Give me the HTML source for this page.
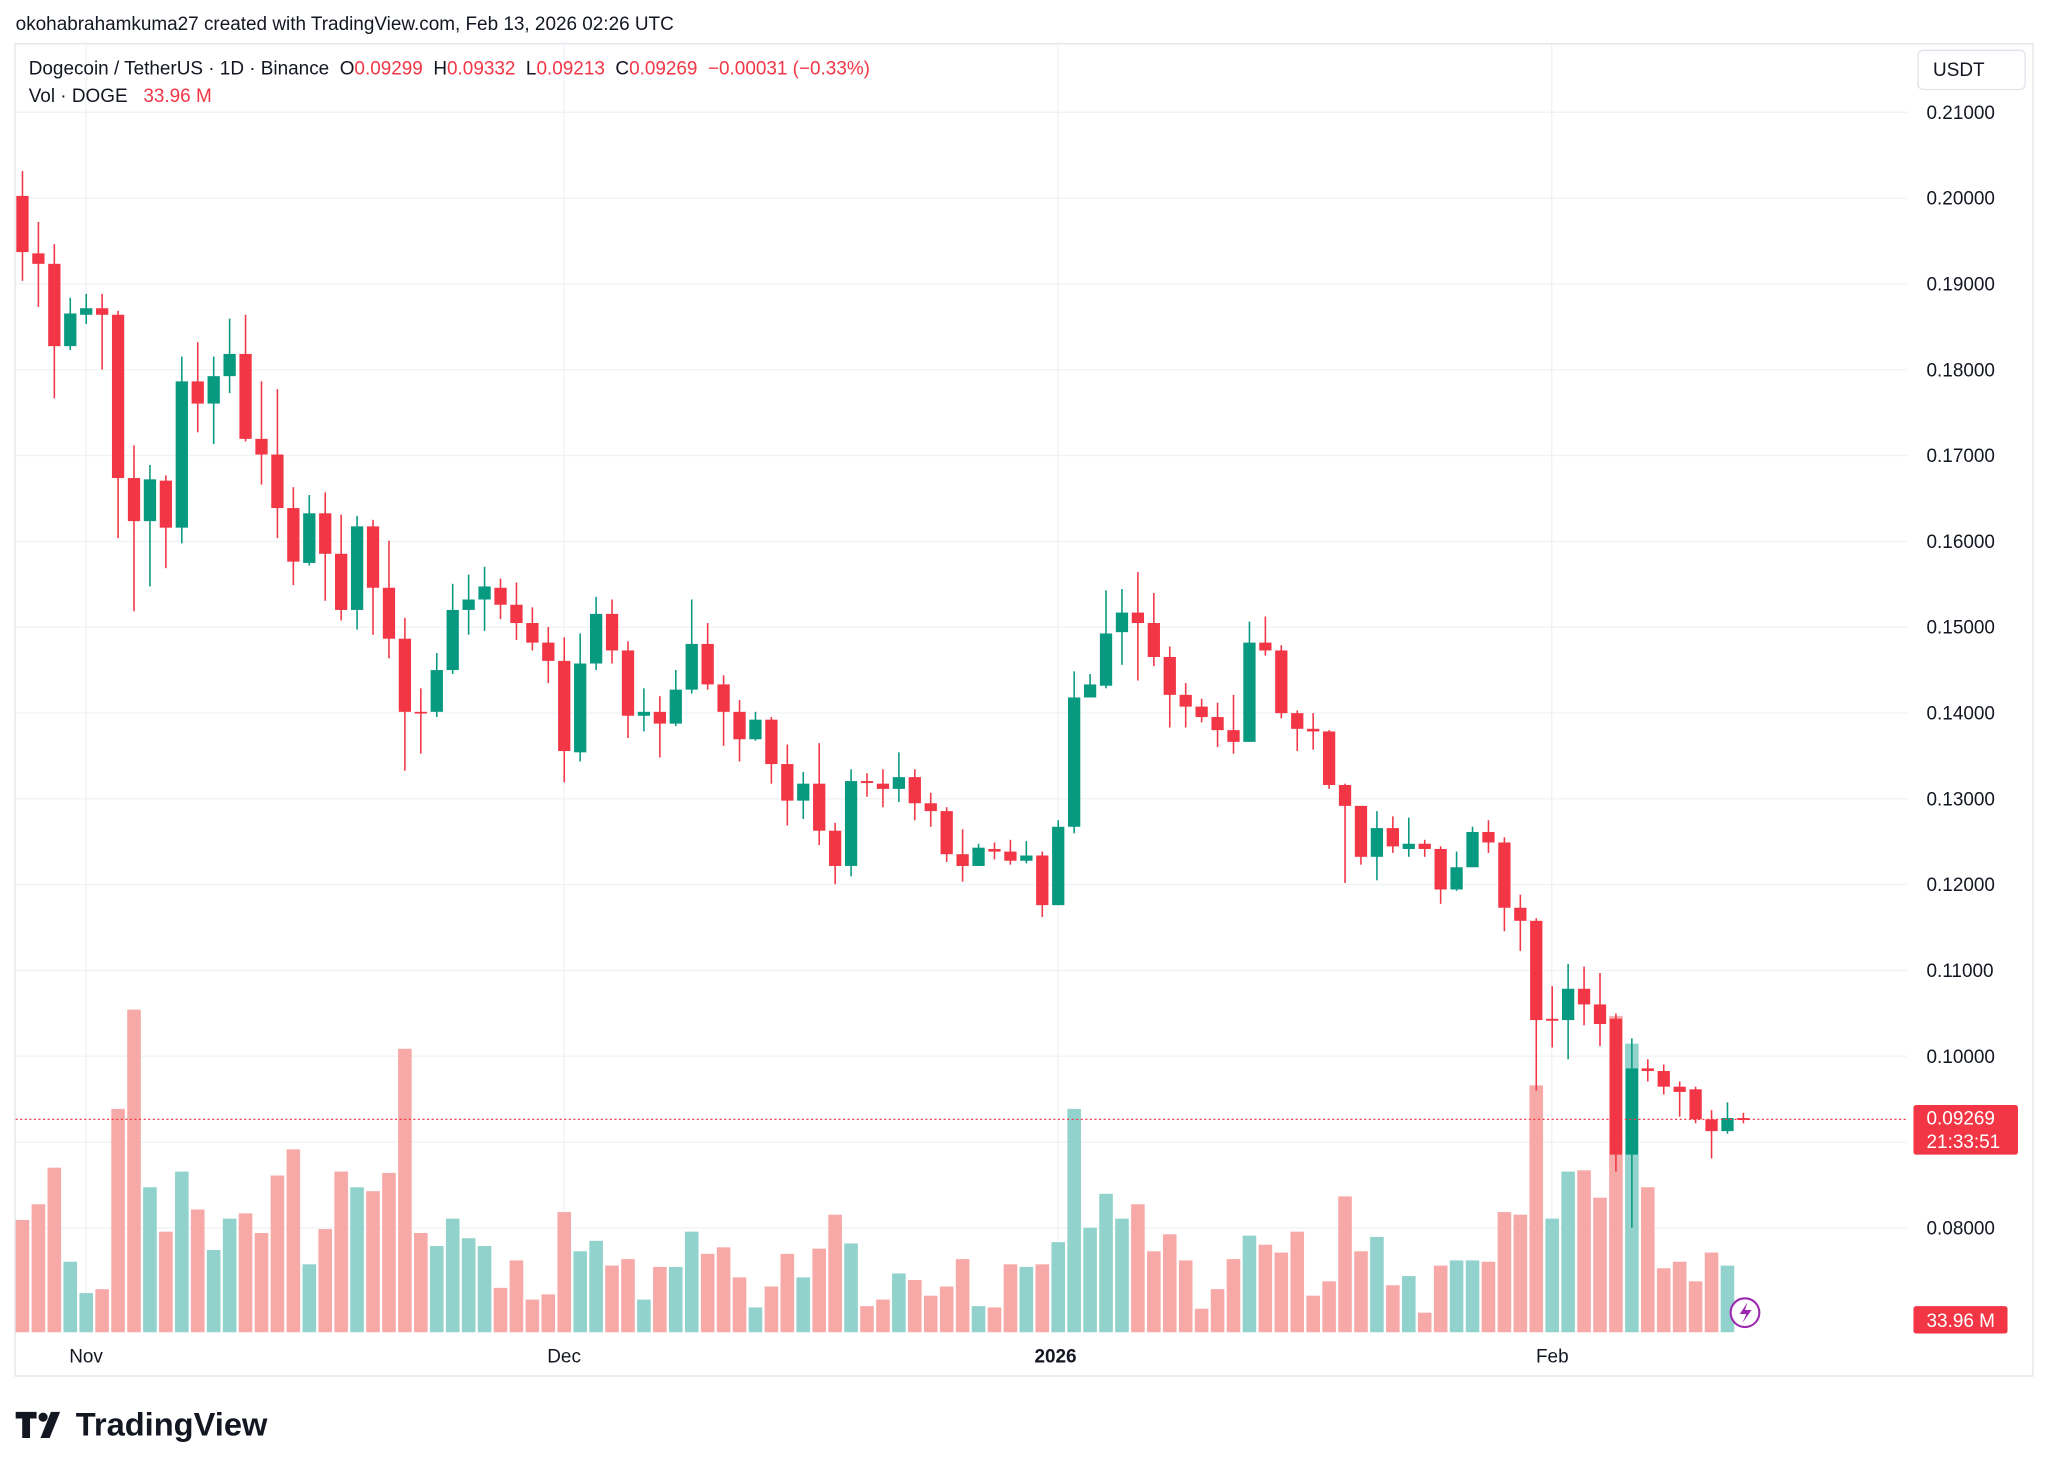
<!DOCTYPE html>
<html><head><meta charset="utf-8"><style>
html,body{margin:0;padding:0;background:#fff;}
svg{display:block;}
text{font-family:"Liberation Sans",sans-serif;white-space:pre;}
</style></head><body>
<svg id="s" width="2048" height="1472" viewBox="0 0 1568 1127" xmlns="http://www.w3.org/2000/svg">
<rect width="1568" height="1127" fill="#fff"/>
<text x="12" y="23" font-size="14.5" fill="#131722">okohabrahamkuma27 created with TradingView.com, Feb 13, 2026 02:26 UTC</text>
<rect x="11.5" y="33.5" width="1545" height="1020" fill="none" stroke="#e0e3eb" stroke-width="1"/>
<g id="grid" stroke="#f0f2f5" stroke-width="1"></g>
<g id="vol"></g>
<g id="cnd"></g>
<line x1="12" y1="857" x2="1460" y2="857" stroke="#F23645" stroke-width="1" stroke-dasharray="1.5,2"/>
<text x="22" y="57" font-size="14.5" fill="#131722">Dogecoin / TetherUS · 1D · Binance&#160;&#160;O<tspan fill="#F23645">0.09299</tspan>&#160;&#160;H<tspan fill="#F23645">0.09332</tspan>&#160;&#160;L<tspan fill="#F23645">0.09213</tspan>&#160;&#160;C<tspan fill="#F23645">0.09269&#160;&#160;−0.00031 (−0.33%)</tspan></text>
<text x="22" y="78" font-size="14.5" fill="#131722">Vol · DOGE&#160;&#160;&#160;<tspan fill="#F23645">33.96 M</tspan></text>
<rect x="1468.5" y="38.5" width="82" height="30" rx="4" fill="#fff" stroke="#e0e3eb"/>
<text x="1480" y="58" font-size="14.5" fill="#131722">USDT</text>
<g id="plab" font-size="14.5" fill="#131722"></g>
<rect x="1465" y="846" width="80" height="38" rx="2" fill="#F23645"/>
<text x="1475" y="861" font-size="14.5" fill="#fff">0.09269</text>
<text x="1475" y="879" font-size="14.5" fill="#fff">21:33:51</text>
<rect x="1465" y="1000" width="72" height="21" rx="2" fill="#F23645"/>
<text x="1475" y="1016" font-size="14.5" fill="#fff">33.96 M</text>
<text x="53" y="1043" font-size="14.5" fill="#131722">Nov</text>
<text x="419" y="1043" font-size="14.5" fill="#131722">Dec</text>
<text x="792" y="1043" font-size="14.5" font-weight="bold" fill="#131722">2026</text>
<text x="1176" y="1043" font-size="14.5" fill="#131722">Feb</text>
<circle cx="1336" cy="1005" r="11" fill="#fff" stroke="#9c27b0" stroke-width="1.6"/>
<path d="M1338 997 L1332 1006 L1337 1006 L1334 1013 L1341 1003 L1336 1003 Z" fill="#9c27b0"/>
<g fill="#131722">
<path d="M12 1081 h16 v5 h-5 v15 h-6 v-15 h-5 z"/>
<circle cx="33" cy="1085" r="3.5"/>
<path d="M39 1081 h7 l-8 20 h-7 z"/>
</g>
<text x="58" y="1099" font-size="25" font-weight="bold" fill="#131722">TradingView</text>
</svg>
<script>
const NS="http://www.w3.org/2000/svg";
function el(p,t,a){const e=document.createElementNS(NS,t);for(const k in a)e.setAttribute(k,a[k]);p.appendChild(e);return e;}
const grid=document.getElementById('grid'),plab=document.getElementById('plab');
for(let i=0;i<=13;i++){const p=0.21-i*0.01;const y=86+i*65.7;
 if(y<1010){el(grid,'line',{x1:12,x2:1460,y1:y,y2:y});
 const t=el(plab,'text',{x:1475,y:y+5});t.textContent=p.toFixed(5);}}
[66,432,810,1188].forEach(x=>el(grid,'line',{x1:x,x2:x,y1:34,y2:1020}));
const C=[
[150,193,131,215],[194,202,170,235],[202,265,187,305],[265,240,228,268],[241,236,225,248],[236,241,225,283],[241,366,238,412],[366,399,341,468],[399,367,356,449],[368,404,364,435],
[404,292,273,416],[292,309,262,331],[309,288,273,340],[288,271,244,301],[271,336,241,338],[336,348,292,371],[348,389,298,412],[389,430,373,448],[431,393,379,433],[393,424,377,460],
[424,467,394,475],[467,403,395,482],[403,450,398,486],[450,489,414,504],[489,545,473,590],[545,545.5,527,577],[545,513,500,549],[513,467,447,516],[467,459,440,486],[459,449,434,483],
[450,463,443,474],[463,477,446,490],[477,492,465,498],[492,506,480,523],[506,575,488,599],[576,508,485,583],[508,470,457,513],[470,498,459,508],[498,548,491,565],[548,545,527,560],
[545,554,533,580],[554,528,513,556],[528,493,459,531],[493,524,477,528],[524,545,517,571],[545,566,536,583],[566,551,545,567],[551,585,549,600],[585,613,570,632],[613,600,591,627],
[600,636,569,647],[636,663,630,677],[663,598,589,671],[598,599.5,592,610],[600,604,589,618],[604,595,576,614],[595,615,589,628],[615,621,607,633],[621,654,618,660],[654,663,635,675],
[663,649,646,663],[650,652,645,658],[652,659,643,662],[659,655,644,661],[655,693,652,702],[693,633,628,693],[633,534,514,638],[534,524,516,534],[525,485,452,527],[484,469,451,509],
[469,477,438,521],[477,503,454,510],[503,532,495,557],[532,541,523,557],[541,549,535,553],[549,559,538,572],[559,568,532,577],[568,492,476,568],[492,498,472,502],[498,546,494,550],
[546,558,544,575],[558,560,546,574],[560,601,559,604],[601,617,600,676],[617,656,617,662],[656,634,621,674],[634,648,625,653],[650,646,626,656],[646,650,643,656],[650,681,648,692],
[681,664,652,682],[664,637,633,662],[637,645,628,653],[645,695,641,713],[695,705,685,728],[705,781,703,835],[780,781.5,755,802],[781,757,738,811],[757,769,740,785],[769,784,745,801],
[780,884,776,897],[884,818,795,940],[818,820,811,828],[820,832,815,838],[832,836,828,855],[834,857,832,860],[857,866,850,887],[866,856,844,868],[856,857.5,852,860]];
const V=[[934,0],[922,0],[894,0],[966,1],[990,1],[987,0],[849,0],[773,0],[909,1],[943,0],[897,1],[926,0],[957,1],[933,1],[929,0],[944,0],[900,0],[880,0],[968,1],[941,0],
[897,0],[909,1],[912,0],[898,0],[803,0],[944,0],[954,1],[933,1],[948,1],[954,1],[986,0],[965,0],[995,0],[991,0],[928,0],[958,1],[950,1],[969,0],[964,0],[995,1],
[970,0],[970,1],[943,1],[960,0],[955,0],[978,0],[1001,1],[985,0],[960,0],[978,1],[956,0],[930,0],[952,1],[1000,0],[995,0],[975,1],[980,0],[992,0],[985,0],[964,0],
[1000,1],[1001,0],[968,0],[970,1],[968,0],[951,1],[849,1],[940,1],[914,1],[933,1],[922,0],[958,0],[945,0],[965,0],[1002,0],[987,0],[964,0],[946,1],[953,0],[959,0],
[943,0],[992,0],[981,0],[916,0],[958,0],[947,1],[984,0],[977,1],[1005,0],[969,0],[965,1],[965,1],[966,0],[928,0],[930,0],[831,0],[933,1],[897,1],[896,0],[917,0],
[778,0],[799,1],[909,0],[971,0],[966,0],[981,0],[959,0],[969,1]];
const vg=document.getElementById('vol'),cg=document.getElementById('cnd');
V.forEach((v,i)=>{const x=17.2+i*12.2;el(vg,'rect',{x:x-5.2,y:v[0],width:10.4,height:1020-v[0],fill:v[1]?'#92D2CC':'#F7A9A7'});});
C.forEach((c,i)=>{const x=17.2+i*12.2;const g=c[1]<c[0];const col=g?'#089981':'#F23645';
 el(cg,'rect',{x:x-0.6,y:c[2],width:1.2,height:c[3]-c[2],fill:col});
 const t=Math.min(c[0],c[1]),b=Math.max(c[0],c[1]);
 el(cg,'rect',{x:x-4.7,y:t,width:9.4,height:Math.max(b-t,1.3),fill:col});});
</script>
</body></html>
